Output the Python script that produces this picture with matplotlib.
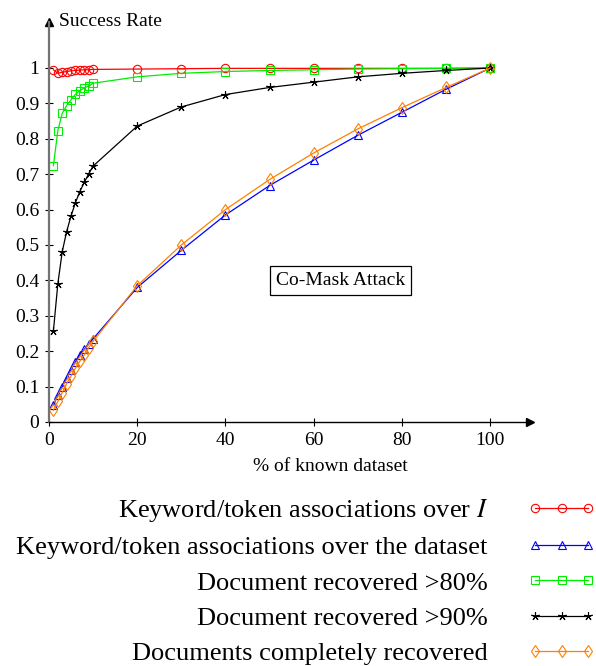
import matplotlib
matplotlib.use("Agg")
import matplotlib.pyplot as plt

plt.rcParams['font.family'] = ['Liberation Serif', 'DejaVu Serif']
plt.rcParams['mathtext.fontset'] = 'stix'

# data
known = [1, 2, 3, 4, 5, 6, 7, 8, 9, 10, 20, 30, 40, 50, 60, 70, 80, 90, 100]
kw_over_I = [0.995, 0.985, 0.988, 0.99, 0.992, 0.993, 0.994, 0.995, 0.995, 0.996,
             0.997, 0.998, 0.999, 0.999, 0.999, 0.999, 0.999, 0.999, 1.0]
kw_over_dataset = [0.048, 0.075, 0.10, 0.125, 0.148, 0.17, 0.19, 0.205, 0.22, 0.235,
                   0.38, 0.485, 0.585, 0.668, 0.74, 0.81, 0.875, 0.94, 1.0]
doc_80 = [0.724, 0.823, 0.872, 0.894, 0.91, 0.926, 0.936, 0.944, 0.949, 0.957,
          0.975, 0.985, 0.99, 0.993, 0.995, 0.997, 0.998, 0.999, 1.0]
doc_90 = [0.257, 0.39, 0.481, 0.538, 0.582, 0.62, 0.651, 0.677, 0.701, 0.723,
          0.836, 0.89, 0.925, 0.945, 0.96, 0.975, 0.985, 0.993, 1.0]
doc_full = [0.033, 0.058, 0.083, 0.108, 0.13, 0.152, 0.172, 0.19, 0.21, 0.228,
            0.385, 0.5, 0.6, 0.685, 0.76, 0.828, 0.888, 0.945, 1.0]

series = [
    (kw_over_I, r"Keyword/token associations over $I$", "#ff0000", "o", 6),
    (kw_over_dataset, "Keyword/token associations over the dataset", "#0000ff", "^", 6),
    (doc_80, "Document recovered >80%", "#00ee00", "s", 6),
    (doc_90, "Document recovered >90%", "black", (5, 2, 0), 6),
    (doc_full, "Documents completely recovered", "#ff8000", "d", 6),
]

fig = plt.figure(figsize=(5.96, 6.66), dpi=100)
ax = fig.add_axes([0.0822, 0.3664, 0.807, 0.6006])

for vals, label, color, marker, size in series:
    ax.plot(known, vals, color=color, marker=marker, lw=0.9, ms=size,
            mfc='none', mec=color, mew=0.8, label=label)

ax.set_xlim(0, 109)
ax.set_ylim(0, 1.13)
ax.set_xticks([0, 20, 40, 60, 80, 100])
ax.set_yticks([0, 0.1, 0.2, 0.3, 0.4, 0.5, 0.6, 0.7, 0.8, 0.9, 1])
ax.set_yticklabels(['0', '0.1', '0.2', '0.3', '0.4', '0.5', '0.6', '0.7', '0.8', '0.9', '1'])
ax.tick_params(direction='inout', length=6, labelsize=14, pad=4)

for s in ['top', 'right']:
    ax.spines[s].set_visible(False)
ax.spines['left'].set_color('0.45')
ax.spines['left'].set_linewidth(1.6)
ax.spines['bottom'].set_linewidth(1.0)
ax.plot(1, 0, '>k', ms=6, transform=ax.transAxes, clip_on=False)
ax.plot(0, 1, '^k', ms=6, transform=ax.transAxes, clip_on=False)

ax.text(0.02, 1.0, "Success Rate", transform=ax.transAxes, fontsize=14,
        ha='left', va='center')
ax.set_xlabel("% of known dataset", fontsize=14)
ax.xaxis.set_label_coords(0.586, -0.09)

ax.text(66, 0.40, "Co-Mask Attack", fontsize=14, ha='center', va='center',
        bbox=dict(boxstyle='square,pad=0.3', fc='white', ec='black', lw=0.9))

fig.legend(loc='upper right', bbox_to_anchor=(1.0, 0.254), frameon=False,
           markerfirst=False, numpoints=3, handlelength=2.6, handletextpad=1.5,
           fontsize=19, labelspacing=0.45, borderpad=0, borderaxespad=0)

fig.savefig("out.png", dpi=100)
